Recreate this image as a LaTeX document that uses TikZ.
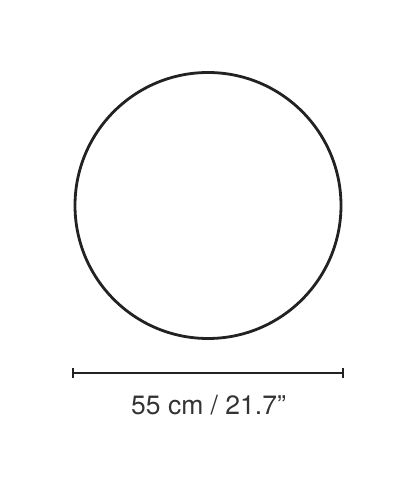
\documentclass[tikz,border=0pt]{standalone}
\usepackage{fontspec}
\setmainfont{TeX Gyre Heros}
\definecolor{ink}{HTML}{222222}
\definecolor{txt}{HTML}{333333}
\begin{document}
\begin{tikzpicture}[x=1pt,y=1pt,
  outline/.style={draw=ink,line width=2.8pt},
  dimline/.style={draw=ink,line width=1.6pt},
  lbl/.style={text=txt,font=\fontsize{26.5}{30}\selectfont,inner sep=0pt,anchor=base}]
\useasboundingbox[fill=white] (0,0) rectangle (416,488);
\node[outline,circle,minimum size=266pt,inner sep=0pt] (disc) at (208,282.5) {};
\coordinate (dl) at (73,115);
\coordinate (dr) at (343,115);
\draw[dimline] (dl) -- (dr);
\draw[dimline] ([yshift=-5pt]dl) -- ([yshift=5pt]dl);
\draw[dimline] ([yshift=-5pt]dr) -- ([yshift=5pt]dr);
\node[lbl] (size) at (208.5,74) {55 cm / 21.7”};
\end{tikzpicture}
\end{document}
